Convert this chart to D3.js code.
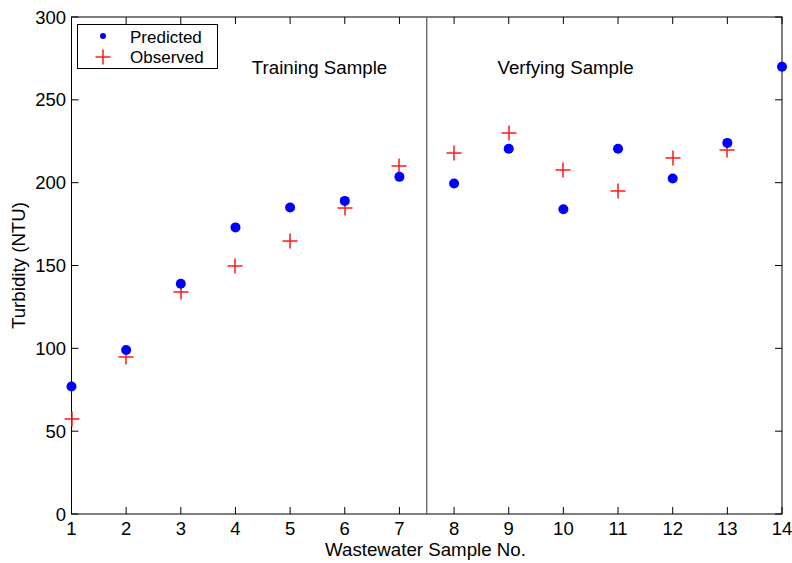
<!DOCTYPE html>
<html>
<head>
<script src="https://d3js.org/d3.v7.min.js"></script>
<style>
body { margin: 0; background: #fff; font-family: "Liberation Sans", Arial, sans-serif; }
</style>
</head>
<body>
<div id="chart"></div>
<script>
// sample numbers 1..14
var samples = [1, 2, 3, 4, 5, 6, 7, 8, 9, 10, 11, 12, 13, 14];
var predicted = [77, 99, 139, 173, 185, 189, 203.5, 199.5, 220.5, 184, 220.5, 202.5, 224, 270];
var observed = [57.5, 95, 134, 150, 165, 185, 210, 218, 230, 207.5, 195, 215, 219.5];
var yTicks = [0, 50, 100, 150, 200, 250, 300];

var W = 792, H = 563;
var m = {left: 71.5, right: 10, top: 17, bottom: 49};

var svg = d3.select("#chart").append("svg")
  .attr("width", W)
  .attr("height", H)
  .style("font-family", '"Liberation Sans", Arial, sans-serif');

var x = d3.scaleLinear().domain([1, 14]).range([m.left, W - m.right]);
var y = d3.scaleLinear().domain([0, 300]).range([H - m.bottom, m.top]);

var x0 = x(1), x1 = x(14), y0 = y(0), y1 = y(300);

// ticks (inward, on all four sides)
var g = svg.append("g").attr("stroke", "#000").attr("stroke-width", 1);
samples.forEach(function(d) {
  g.append("line").attr("x1", x(d)).attr("x2", x(d)).attr("y1", y0).attr("y2", y0 - 7);
  g.append("line").attr("x1", x(d)).attr("x2", x(d)).attr("y1", y1).attr("y2", y1 + 7);
});
yTicks.forEach(function(d) {
  g.append("line").attr("x1", x0).attr("x2", x0 + 7).attr("y1", y(d)).attr("y2", y(d));
  g.append("line").attr("x1", x1).attr("x2", x1 - 7).attr("y1", y(d)).attr("y2", y(d));
});

// box
svg.append("rect")
  .attr("x", x0).attr("y", y1)
  .attr("width", x1 - x0).attr("height", y0 - y1)
  .attr("fill", "none").attr("stroke", "#000");

// tick labels
svg.append("g").selectAll("text").data(samples).enter().append("text")
  .attr("x", function(d) { return x(d); })
  .attr("y", y0 + 20.5)
  .attr("text-anchor", "middle")
  .attr("font-size", 18.5)
  .text(function(d) { return d; });

svg.append("g").selectAll("text").data(yTicks).enter().append("text")
  .attr("x", x0 - 5.5)
  .attr("y", function(d) { return y(d) + 6.5; })
  .attr("text-anchor", "end")
  .attr("font-size", 18.5)
  .text(function(d) { return d; });

// axis titles
svg.append("text")
  .attr("x", 425.5).attr("y", 556)
  .attr("text-anchor", "middle").attr("font-size", 18.7)
  .text("Wastewater Sample No.");
svg.append("text")
  .attr("transform", "translate(24.5," + ((y0 + y1) / 2) + ") rotate(-90)")
  .attr("text-anchor", "middle").attr("font-size", 18.7)
  .text("Turbidity (NTU)");

// divider between training and verifying
svg.append("line")
  .attr("x1", x(7.5)).attr("x2", x(7.5))
  .attr("y1", y1).attr("y2", y0)
  .attr("stroke", "#555").attr("stroke-width", 1.2);

svg.append("text").attr("x", 319.5).attr("y", 73.5)
  .attr("text-anchor", "middle").attr("font-size", 18.7)
  .text("Training Sample");
svg.append("text").attr("x", 565.5).attr("y", 74)
  .attr("text-anchor", "middle").attr("font-size", 18.7)
  .text("Verfying Sample");

// observed: red plus (soft 2px strokes like the original)
function plus(sel, cx, cy) {
  cx = Math.round(cx);
  cy = Math.round(cy);
  sel.append("path")
    .attr("d", "M" + (cx - 7.5) + "," + cy + "H" + (cx + 7.5) + "M" + cx + "," + (cy - 7.5) + "V" + (cy + 7.5))
    .attr("stroke", "#ff1a1a").attr("stroke-width", 1.5).attr("fill", "none");
}
var obs = svg.append("g");
observed.forEach(function(d, i) { plus(obs, x(samples[i]), y(d)); });

// predicted: blue dots
svg.append("g").selectAll("circle").data(predicted).enter().append("circle")
  .attr("cx", function(d, i) { return x(samples[i]); })
  .attr("cy", function(d) { return y(d); })
  .attr("r", 5)
  .attr("fill", "#0000ff");

// legend
var lg = svg.append("g");
lg.append("rect").attr("x", 77.5).attr("y", 24.5).attr("width", 140).attr("height", 44)
  .attr("fill", "#fff").attr("stroke", "#000");
lg.append("circle").attr("cx", 103).attr("cy", 36).attr("r", 3).attr("fill", "#0000ff");
plus(lg, 103, 57);
lg.append("text").attr("x", 130).attr("y", 42.5).attr("font-size", 17).text("Predicted");
lg.append("text").attr("x", 130).attr("y", 62.5).attr("font-size", 17).text("Observed");
</script>
</body>
</html>
